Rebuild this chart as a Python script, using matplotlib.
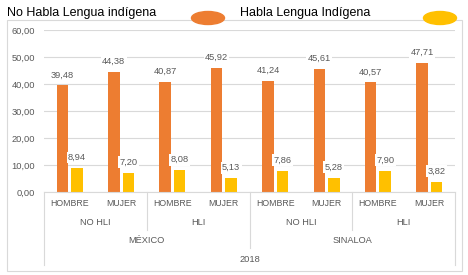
import matplotlib.pyplot as plt
import matplotlib.transforms as mtransforms
from matplotlib.patches import Ellipse, Rectangle
import numpy as np

plt.rcParams['font.family'] = ['Liberation Sans', 'DejaVu Sans']

sexo = ['HOMBRE', 'MUJER', 'HOMBRE', 'MUJER', 'HOMBRE', 'MUJER', 'HOMBRE', 'MUJER']
grupo = ['NO HLI', 'HLI', 'NO HLI', 'HLI']
region = ['MÉXICO', 'SINALOA']
anio = '2018'
no_hli = [39.48, 44.38, 40.87, 45.92, 41.24, 45.61, 40.57, 47.71]
hli = [8.94, 7.20, 8.08, 5.13, 7.86, 5.28, 7.90, 3.82]

naranja = '#ED7D31'
amarillo = '#FFC000'
gris = '#595959'

W, H = 468, 275
fig = plt.figure(figsize=(W / 100, H / 100), dpi=100)
ax = fig.add_axes([44 / W, 1 - 192 / H, (455 - 44) / W, (192 - 30) / H])

x = np.arange(len(sexo))
ancho = 0.224
b1 = ax.bar(x - 0.142, no_hli, ancho, color=naranja, zorder=2)
b2 = ax.bar(x + 0.142, hli, ancho, color=amarillo, zorder=2)

for barras, vals in ((b1, no_hli), (b2, hli)):
    for b, v in zip(barras, vals):
        ax.annotate(f'{v:.2f}'.replace('.', ','),
                    (b.get_x() + b.get_width() / 2, v),
                    xytext=(0, 7.5), textcoords='offset points',
                    ha='center', va='center', fontsize=6.7, color=gris,
                    bbox=dict(boxstyle='square,pad=0.15', fc='white', ec='none'),
                    zorder=3)

ax.set_xlim(-0.5, len(sexo) - 0.5)
ax.set_ylim(0, 60)
ax.set_yticks(np.arange(0, 61, 10))
ax.set_yticklabels([f'{v:.2f}'.replace('.', ',') for v in np.arange(0, 61, 10)])
ax.tick_params(axis='y', length=0, labelsize=6.7, labelcolor=gris, pad=6.5)
ax.set_xticks([])
ax.grid(axis='y', color='#d9d9d9', linewidth=0.8, zorder=0)
for s in ['left', 'right', 'top']:
    ax.spines[s].set_visible(False)
ax.spines['bottom'].set_color('#d9d9d9')

# etiquetas multinivel
tr = mtransforms.blended_transform_factory(ax.transData, ax.transAxes)
for i, s in enumerate(sexo):
    ax.text(i, -0.074, s, transform=tr, ha='center', va='center', fontsize=6.3, color=gris)
for j, g in enumerate(grupo):
    ax.text(2 * j + 0.5, -0.191, g, transform=tr, ha='center', va='center', fontsize=6.7, color=gris)
for k, r in enumerate(region):
    ax.text(4 * k + 1.5, -0.302, r, transform=tr, ha='center', va='center', fontsize=6.7, color=gris)
ax.text(3.5, -0.414, anio, transform=tr, ha='center', va='center', fontsize=6.7, color=gris)

sep = {-0.5: -0.451, 1.5: -0.235, 3.5: -0.346, 5.5: -0.235, 7.5: -0.451}
for xs, yb in sep.items():
    ax.plot([xs, xs], [0, yb], transform=tr, color='#d9d9d9', linewidth=0.8, clip_on=False)

# borde y leyenda
fig.patches.append(Rectangle((7 / W, 1 - 271 / H), (462 - 7) / W, (271 - 20) / H,
                             transform=fig.transFigure, fill=False, ec='#d9d9d9', lw=0.8))
fig.text(7 / W, 1 - 13 / H, 'No Habla Lengua indígena', fontsize=9, color='black', va='center')
fig.text(240 / W, 1 - 13 / H, 'Habla Lengua Indígena', fontsize=9, color='black', va='center')
fig.patches.append(Ellipse((208 / W, 1 - 18 / H), 33 / W, 13 / H, transform=fig.transFigure,
                           color=naranja))
fig.patches.append(Ellipse((440 / W, 1 - 18 / H), 33 / W, 13 / H, transform=fig.transFigure,
                           color=amarillo))

fig.savefig('out.png', dpi=100)
